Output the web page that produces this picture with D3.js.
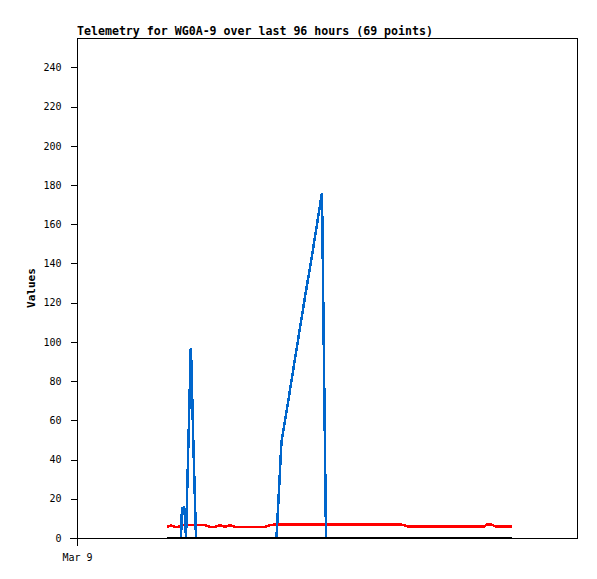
<!DOCTYPE html>
<html>
<head>
<meta charset="utf-8">
<script src="https://cdn.jsdelivr.net/npm/d3@7"></script>
<style>
  html, body { margin: 0; padding: 0; background: #fff; }
  svg { display: block; }
</style>
</head>
<body>
<svg id="chart" width="597" height="579"></svg>
<script>
// ---- data (hours after Mar 9 00:00) ----
const titleText = "Telemetry for WG0A-9 over last 96 hours (69 points)";
const yLabel = "Values";
const yTicks = [0, 20, 40, 60, 80, 100, 120, 140, 160, 180, 200, 220, 240];
const hours = [
  17.28, 18.05, 18.82, 19.39, 19.97,
  20.16, 20.35, 20.54, 20.74, 20.93, 21.31, 21.85, 21.98, 22.27, 22.85,
  23.62, 24.58, 25.54, 26.50, 27.46, 28.42, 29.38, 30.34, 31.30, 32.26, 33.22, 34.18, 35.14, 36.10, 37.06, 38.30,
  39.26, 40.32, 41.47, 42.62, 43.78, 44.93, 46.08, 47.04,
  47.81,
  48.96, 50.11, 51.46, 52.80, 54.14, 55.49, 56.83, 58.18, 59.52, 60.86, 62.21, 63.55, 64.90, 66.24, 67.58,
  68.93, 70.27, 71.62, 72.96, 74.30, 75.65, 76.99, 78.14, 78.72, 79.30, 80.45, 81.60, 82.56, 83.52
];
const blueVals = [
  0, 0, 0, 0, 0,
  16, 12, 16, 11, 0, 40, 97, 88, 55, 0,
  0, 0, 0, 0, 0, 0, 0, 0, 0, 0, 0, 0, 0, 0, 0, 0,
  49, 66, 85, 104, 123, 141, 160, 176,
  0,
  0, 0, 0, 0, 0, 0, 0, 0, 0, 0, 0, 0, 0, 0, 0,
  0, 0, 0, 0, 0, 0, 0, 0, 0, 0, 0, 0, 0, 0
];
const redVals = [
  5.6, 6.4, 5.6, 5.6, 6.6,
  6.6, 6.6, 6.6, 6.6, 6.6, 6.6, 6.6, 6.6, 6.6, 6.6,
  6.6, 6.6, 5.6, 5.6, 6.6, 5.6, 6.6, 5.6, 5.6, 5.6, 5.6, 5.6, 5.6, 5.6, 6.6, 6.9,
  6.9, 6.9, 6.9, 6.9, 6.9, 6.9, 6.9, 6.9,
  6.9,
  6.9, 6.9, 6.9, 6.9, 6.9, 6.9, 6.9, 6.9, 6.9, 6.9, 6.9, 5.9, 5.9, 5.9, 5.9,
  5.9, 5.9, 5.9, 5.9, 5.9, 5.9, 5.9, 5.9, 7.0, 7.0, 5.9, 5.9, 5.9, 5.9
];
const blackVals = hours.map(() => 0);

// ---- layout ----
const svg = d3.select("#chart");
const mLeft = 77, mRight = 577, mTop = 38, mBottom = 538;
const t0 = new Date(2024, 2, 9, 0, 0, 0);
const toDate = h => new Date(t0.getTime() + h * 3600000);

const x = d3.scaleTime().domain([t0, toDate(96)]).range([mLeft, mRight]);
const y = d3.scaleLinear().domain([0, 255]).range([mBottom, mTop]);

// frame
svg.append("rect")
  .attr("x", mLeft + 0.5).attr("y", mTop + 0.5)
  .attr("width", mRight - mLeft).attr("height", mBottom - mTop)
  .attr("fill", "none").attr("stroke", "#000").attr("stroke-width", 1)
  .attr("shape-rendering", "crispEdges");

// lines
const line = vals => d3.line()
  .x((d, i) => x(toDate(hours[i])))
  .y(d => y(d))(vals);

const series = [
  { vals: redVals, color: "#ff0000" },
  { vals: blueVals, color: "#0066cc" },
  { vals: blackVals, color: "#000000" }
];
series.forEach(s => {
  svg.append("path")
    .attr("d", line(s.vals))
    .attr("fill", "none")
    .attr("stroke", s.color)
    .attr("stroke-width", 2.5)
    .attr("stroke-linejoin", "miter")
    .attr("shape-rendering", "crispEdges");
});

// y axis
const yAxis = d3.axisLeft(y).tickValues(yTicks).tickSize(7).tickPadding(9).tickFormat(d3.format("d"));
const gy = svg.append("g").attr("transform", `translate(${mLeft + 0.5},0)`).call(yAxis);
gy.select(".domain").remove();
gy.selectAll(".tick line").attr("stroke", "#000").attr("shape-rendering", "crispEdges");
gy.selectAll(".tick text")
  .attr("font-family", "'DejaVu Sans Mono', monospace").attr("font-size", 10).attr("fill", "#000");

// x axis
const xAxis = d3.axisBottom(x).tickValues([t0]).tickSize(7).tickPadding(8).tickFormat(d3.timeFormat("%b %-d"));
const gx = svg.append("g").attr("transform", `translate(0,${mBottom + 0.5})`).call(xAxis);
gx.select(".domain").remove();
gx.selectAll(".tick line").attr("stroke", "#000").attr("shape-rendering", "crispEdges");
gx.selectAll(".tick text")
  .attr("font-family", "'DejaVu Sans Mono', monospace").attr("font-size", 10).attr("fill", "#000");

// axis extension line
svg.append("line").attr("x1", mLeft - 7).attr("x2", mRight).attr("y1", mBottom + 0.5).attr("y2", mBottom + 0.5)
  .attr("stroke", "#000").attr("shape-rendering", "crispEdges");

// title
svg.append("text")
  .attr("x", mLeft).attr("y", 35)
  .attr("font-family", "'DejaVu Sans Mono', monospace").attr("font-weight", "bold").attr("font-size", 11.6)
  .attr("fill", "#000")
  .text(titleText);

// y label
svg.append("text")
  .attr("transform", `translate(35,${(mTop + mBottom) / 2}) rotate(-90)`)
  .attr("text-anchor", "middle")
  .attr("font-family", "'DejaVu Sans Mono', monospace").attr("font-weight", "bold").attr("font-size", 11)
  .attr("fill", "#000")
  .text(yLabel);
</script>
</body>
</html>
